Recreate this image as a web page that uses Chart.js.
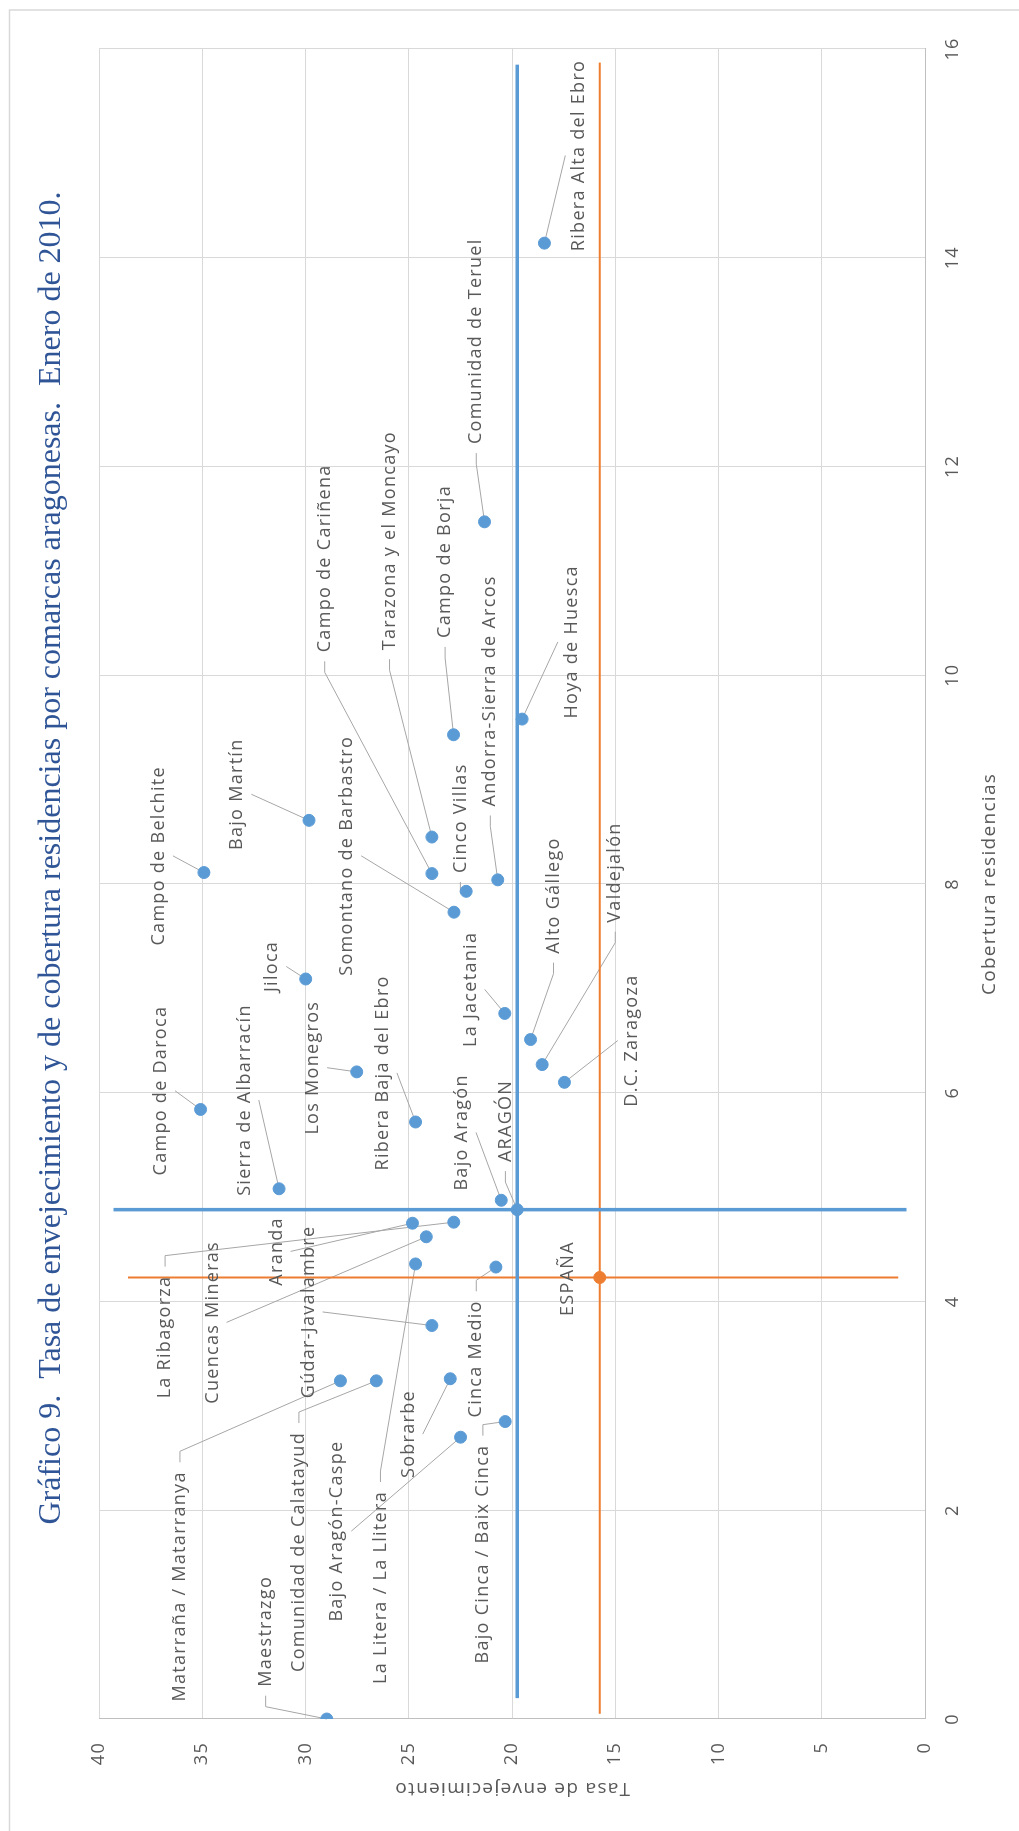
<!DOCTYPE html>
<html lang="es">
<head>
<meta charset="utf-8">
<title>Gráfico 9. Tasa de envejecimiento y cobertura de residencias</title>
<script src="https://cdn.jsdelivr.net/npm/chart.js@4.4.1/dist/chart.umd.min.js"></script>
<style>
    html, body { margin: 0; padding: 0; background: #fff; overflow: hidden; }
    /* the chart is drawn landscape and turned a quarter turn, like the printed page */
    #page {
        position: absolute; left: 0; top: 0;
        width: 1831px; height: 1019px;
        transform-origin: 0 0;
        transform: translateY(1831px) rotate(-90deg);
    }
    canvas { display: block; }
</style>
</head>
<body>
<div id="page"><canvas id="chart" width="1831" height="1019"></canvas></div>
<script>
// Comarcas aragonesas, enero 2010
const comarcas = [
    'La Ribagorza', 'Aranda', 'Cuencas Mineras', 'Gúdar-Javalambre', 'Matarraña / Matarranya',
    'Maestrazgo', 'Comunidad de Calatayud', 'Bajo Aragón-Caspe', 'La Litera / La Llitera', 'Sobrarbe',
    'Cinca Medio', 'Bajo Cinca / Baix Cinca', 'Campo de Daroca', 'Sierra de Albarracín', 'Los Monegros',
    'Ribera Baja del Ebro', 'Bajo Aragón', 'Jiloca', 'La Jacetania', 'Alto Gállego',
    'Valdejalón', 'D.C. Zaragoza', 'Campo de Belchite', 'Bajo Martín', 'Somontano de Barbastro',
    'Cinco Villas', 'Andorra-Sierra de Arcos', 'Campo de Cariñena', 'Tarazona y el Moncayo', 'Campo de Borja',
    'Hoya de Huesca', 'Comunidad de Teruel', 'Ribera Alta del Ebro'
];
const cobertura = [
    4.76, 4.75, 4.62, 3.77, 3.24,
    0.00, 3.24, 2.70, 4.36, 3.26,
    4.33, 2.85, 5.84, 5.08, 6.20,
    5.72, 4.97, 7.09, 6.76, 6.51,
    6.27, 6.10, 8.11, 8.61, 7.73,
    7.93, 8.04, 8.10, 8.45, 9.43,
    9.58, 11.47, 14.14
];
const tasa = [
    22.82, 24.82, 24.15, 23.88, 28.31,
    28.97, 26.57, 22.49, 24.67, 22.99,
    20.78, 20.33, 35.08, 31.28, 27.52,
    24.67, 20.52, 29.99, 20.35, 19.10,
    18.54, 17.46, 34.92, 29.83, 22.81,
    22.22, 20.69, 23.88, 23.88, 22.83,
    19.51, 21.33, 18.43
];

// Totals
const aragonCob = 4.88;
const aragonTasa = 19.75;
const espanaCob = 4.23;
const espanaTasa = 15.75;

// Extent of the reference lines through the totals
const lineaAragonCob = [0.20, 15.85];
const lineaAragonTasa = [0.9, 39.3];
const lineaEspanaCob = [0.05, 15.87];
const lineaEspanaTasa = [1.3, 38.6];

// Where each label sits, in axis units (comarcas, then ARAGÓN, ESPAÑA)
const etiquetaCob = [
    3.66, 4.48, 3.80, 3.90, 1.27,
    0.84, 1.60, 1.80, 1.26, 2.73,
    3.45, 1.58, 6.02, 5.93, 6.24,
    6.19, 5.62, 7.21, 6.99, 7.89,
    8.11, 6.50, 8.27, 8.86, 8.27,
    8.63, 9.85, 11.12, 11.29, 11.09,
    10.32, 13.20, 14.98,
    5.73, 4.22
];
const etiquetaTasa = [
    36.80, 31.40, 34.50, 29.85, 36.08,
    31.93, 30.32, 28.46, 26.37, 25.00,
    21.73, 21.41, 37.00, 32.94, 29.63,
    26.25, 22.42, 31.61, 22.00, 17.99,
    15.00, 14.20, 37.10, 33.30, 27.98,
    22.50, 21.05, 29.07, 25.93, 23.24,
    17.10, 21.73, 16.74,
    20.32, 17.27
];

const cobTicks = [0, 2, 4, 6, 8, 10, 12, 14, 16];
const tasaTicks = [0, 5, 10, 15, 20, 25, 30, 35, 40];

const titulo = 'Gráfico 9.  Tasa de envejecimiento y de cobertura residencias por comarcas aragonesas.  Enero de 2010.';

const BLUE = '#5B9BD5';
const ORANGE = '#ED7D31';
const TEXT = '#595959';
const GRID = '#D9D9D9';
const LEADER = '#A6A6A6';
const SPACING = '1.3px';
const LABEL_FONT = '18px "Open Sans"';

const nombres = comarcas.concat(['ARAGÓN', 'ESPAÑA']);
const puntosCob = cobertura.concat([aragonCob, espanaCob]);
const puntosTasa = tasa.concat([aragonTasa, espanaTasa]);
const sinGuia = ['ESPAÑA'];

function labelBoxes(chart) {
    const { ctx, scales: { x, y } } = chart;
    ctx.save();
    ctx.font = LABEL_FONT;
    ctx.letterSpacing = SPACING;
    const boxes = nombres.map((name, i) => ({
        name,
        w: ctx.measureText(name).width,
        cx: x.getPixelForValue(etiquetaCob[i]),
        cy: y.getPixelForValue(etiquetaTasa[i]),
        px: x.getPixelForValue(puntosCob[i]),
        py: y.getPixelForValue(puntosTasa[i])
    }));
    ctx.restore();
    return boxes;
}

const labelsPlugin = {
    id: 'comarcaLabels',
    beforeDraw(chart) {
        const { ctx } = chart;
        ctx.letterSpacing = SPACING;
        // outer frame of the chart
        ctx.save();
        ctx.strokeStyle = GRID;
        ctx.lineWidth = 1.5;
        ctx.strokeRect(-5, 9.5, 1826, 1030);
        ctx.restore();
    },
    beforeDatasetsDraw(chart) {
        // leader lines go under the markers
        const { ctx } = chart;
        ctx.save();
        ctx.strokeStyle = LEADER;
        ctx.lineWidth = 1;
        labelBoxes(chart).forEach(b => {
            if (sinGuia.includes(b.name)) return;
            const left = b.cx - b.w / 2;
            const right = b.cx + b.w / 2;
            ctx.beginPath();
            if (b.px < left - 16) {
                ctx.moveTo(left - 9, b.cy);
                ctx.lineTo(left - 20, b.cy);
            } else if (b.px > right + 16) {
                ctx.moveTo(right + 9, b.cy);
                ctx.lineTo(right + 20, b.cy);
            } else {
                ctx.moveTo(b.cx, b.py > b.cy ? b.cy + 14 : b.cy - 14);
            }
            ctx.lineTo(b.px, b.py);
            ctx.stroke();
        });
        ctx.restore();
    },
    afterDatasetsDraw(chart) {
        const { ctx } = chart;
        ctx.save();
        ctx.font = LABEL_FONT;
        ctx.letterSpacing = SPACING;
        ctx.fillStyle = TEXT;
        ctx.textAlign = 'center';
        ctx.textBaseline = 'middle';
        labelBoxes(chart).forEach(b => ctx.fillText(b.name, b.cx, b.cy));
        ctx.restore();
    },
    afterDraw(chart) {
        const { ctx } = chart;
        ctx.save();
        ctx.letterSpacing = '0px';
        ctx.font = '32px "Liberation Serif"';
        ctx.fillStyle = '#2F5597';
        ctx.textAlign = 'center';
        ctx.textBaseline = 'middle';
        ctx.fillText(titulo, 973, 52);
        ctx.restore();
    }
};

function segment(xs, ys) {
    return xs.map((v, i) => ({ x: v, y: ys[i] }));
}

new Chart(document.getElementById('chart'), {
    type: 'scatter',
    data: {
        datasets: [
            {
                label: 'Comarcas',
                data: cobertura.map((c, i) => ({ x: c, y: tasa[i] })),
                backgroundColor: BLUE, borderColor: BLUE,
                pointRadius: 6, borderWidth: 1, order: 1
            },
            {
                label: 'ARAGÓN',
                data: [{ x: aragonCob, y: aragonTasa }],
                backgroundColor: BLUE, borderColor: BLUE,
                pointRadius: 6, borderWidth: 1, order: 1
            },
            {
                label: 'ESPAÑA',
                data: [{ x: espanaCob, y: espanaTasa }],
                backgroundColor: ORANGE, borderColor: ORANGE,
                pointRadius: 6, borderWidth: 1, order: 1
            },
            {
                label: 'Aragón tasa',
                data: segment(lineaAragonCob, [aragonTasa, aragonTasa]),
                showLine: true, pointRadius: 0, borderColor: BLUE, borderWidth: 3.5, order: 2
            },
            {
                label: 'Aragón cobertura',
                data: segment([aragonCob, aragonCob], lineaAragonTasa),
                showLine: true, pointRadius: 0, borderColor: BLUE, borderWidth: 3.5, order: 2
            },
            {
                label: 'España tasa',
                data: segment(lineaEspanaCob, [espanaTasa, espanaTasa]),
                showLine: true, pointRadius: 0, borderColor: ORANGE, borderWidth: 2, order: 3
            },
            {
                label: 'España cobertura',
                data: segment([espanaCob, espanaCob], lineaEspanaTasa),
                showLine: true, pointRadius: 0, borderColor: ORANGE, borderWidth: 2, order: 3
            }
        ]
    },
    options: {
        responsive: false,
        animation: false,
        devicePixelRatio: 1,
        layout: { padding: { top: 99, right: 49, bottom: 0, left: 0 } },
        plugins: {
            legend: { display: false },
            tooltip: { enabled: false }
        },
        scales: {
            x: {
                type: 'linear',
                min: cobTicks[0],
                max: cobTicks[cobTicks.length - 1],
                afterBuildTicks: s => { s.ticks = cobTicks.map(v => ({ value: v })); },
                ticks: { color: TEXT, font: { family: 'Open Sans', size: 18 }, padding: 17 },
                grid: { color: GRID, drawTicks: false },
                border: { color: '#BFBFBF' },
                title: {
                    display: true, text: 'Cobertura residencias', color: TEXT,
                    font: { family: 'Open Sans', size: 19 }, padding: { top: 0, bottom: 18 }
                },
                afterFit: s => { s.height = 94; }
            },
            y: {
                type: 'linear',
                min: tasaTicks[0],
                max: tasaTicks[tasaTicks.length - 1],
                afterBuildTicks: s => { s.ticks = tasaTicks.map(v => ({ value: v })); },
                ticks: { color: TEXT, font: { family: 'Open Sans', size: 18 }, padding: 23 },
                grid: { color: GRID, drawTicks: false },
                border: { color: '#BFBFBF' },
                title: {
                    display: true, text: 'Tasa de envejecimiento', color: TEXT,
                    font: { family: 'Open Sans', size: 19 }, padding: { top: 31, bottom: 0 }
                },
                afterFit: s => { s.width = 112; }
            }
        }
    },
    plugins: [labelsPlugin]
});
</script>
</body>
</html>
